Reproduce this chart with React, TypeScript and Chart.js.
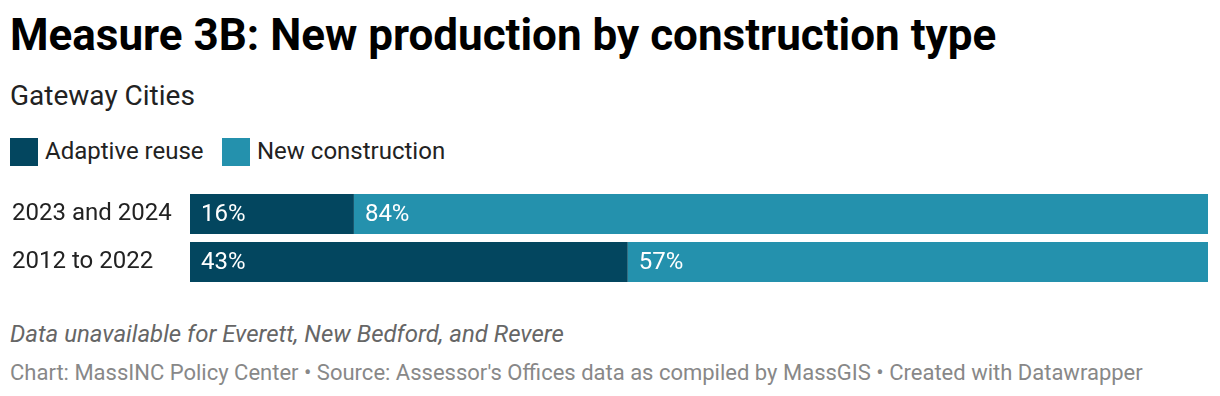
import React, { useEffect, useRef } from "react";
import { Chart, registerables } from "chart.js";

Chart.register(...registerables);

const categories = ["2023 and 2024", "2012 to 2022"];
const adaptiveReuse = [16.1, 43];
const newConstruction = [83.9, 57];
const seriesNames = ["Adaptive reuse", "New construction"];
const colors = ["#03465F", "#2491AD"];

const FONT = "Roboto, 'Noto Sans', sans-serif";

const valueLabels = {
  id: "valueLabels",
  afterDatasetsDraw(chart: any) {
    const ctx = chart.ctx;
    ctx.save();
    ctx.font = `400 24px ${FONT}`;
    ctx.fillStyle = "#ffffff";
    ctx.textAlign = "left";
    ctx.textBaseline = "middle";
    chart.data.datasets.forEach((ds: any, di: number) => {
      const meta = chart.getDatasetMeta(di);
      meta.data.forEach((el: any, i: number) => {
        const v = ds.data[i];
        const start = Math.min(el.base, el.x);
        ctx.fillText(`${Math.round(v)}%`, start + 11, el.y + 1);
      });
    });
    ctx.restore();
  },
};

export default function App() {
  const ref = useRef<HTMLCanvasElement | null>(null);

  useEffect(() => {
    document.body.style.margin = "0";
    const chart = new Chart(ref.current as HTMLCanvasElement, {
      type: "bar",
      data: {
        labels: categories,
        datasets: [
          { label: seriesNames[0], data: adaptiveReuse, backgroundColor: colors[0], borderWidth: 0 },
          { label: seriesNames[1], data: newConstruction, backgroundColor: colors[1], borderWidth: 0 },
        ],
      },
      options: {
        indexAxis: "y",
        animation: false,
        responsive: false,
        maintainAspectRatio: false,
        layout: { padding: { left: 12, right: 12, top: 0, bottom: 0 } },
        datasets: { bar: { categoryPercentage: 1, barPercentage: 40 / 48 } },
        plugins: { legend: { display: false }, tooltip: { enabled: false } },
        scales: {
          x: { stacked: true, min: 0, max: 100, display: false },
          y: {
            stacked: true,
            grid: { display: false },
            border: { display: false },
            afterFit: (s: any) => {
              s.width = 178;
            },
            ticks: {
              crossAlign: "far",
              color: "#222222",
              font: { family: FONT, size: 24, lineHeight: 1.25 },
              padding: 0,
            },
          },
        },
      },
      plugins: [valueLabels],
    });
    return () => chart.destroy();
  }, []);

  const abs = (s: React.CSSProperties): React.CSSProperties => ({
    position: "absolute",
    whiteSpace: "nowrap",
    lineHeight: 1,
    fontFamily: FONT,
    ...s,
  });

  return (
    <div style={{ position: "relative", width: 1220, height: 396, background: "#fff", overflow: "hidden" }}>
      <div style={abs({ left: 10, top: 13, fontSize: 44, fontWeight: 700, color: "#000" })}>
        Measure 3B: New production by construction type
      </div>
      <div style={abs({ left: 10, top: 82.4, fontSize: 28, color: "#222" })}>Gateway Cities</div>
      <div style={abs({ left: 10, top: 138, width: 28, height: 28, background: colors[0] })} />
      <div style={abs({ left: 45, top: 138.8, fontSize: 24, color: "#222" })}>{seriesNames[0]}</div>
      <div style={abs({ left: 222, top: 138, width: 28, height: 28, background: colors[1] })} />
      <div style={abs({ left: 257, top: 138.8, fontSize: 24, color: "#222" })}>{seriesNames[1]}</div>
      <canvas ref={ref} width={1220} height={126} style={{ position: "absolute", left: 0, top: 175, width: 1220, height: 126 }} />
      <div style={abs({ left: 10, top: 322.3, fontSize: 24, fontStyle: "italic", color: "#666" })}>
        Data unavailable for Everett, New Bedford, and Revere
      </div>
      <div style={abs({ left: 10, top: 361.5, fontSize: 22, color: "#888" })}>
        Chart: MassINC Policy Center • Source: Assessor's Offices data as compiled by MassGIS • Created with Datawrapper
      </div>
    </div>
  );
}
